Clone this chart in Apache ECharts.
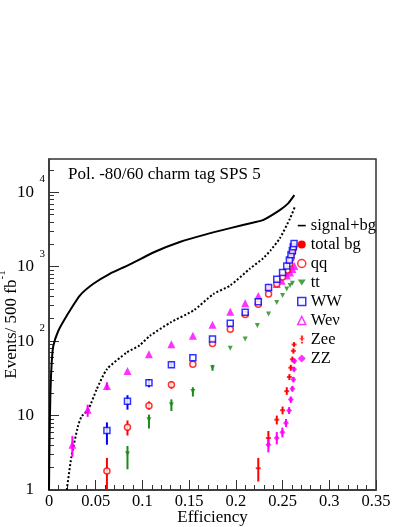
<!DOCTYPE html>
<html>
<head>
<meta charset="utf-8">
<script src="https://cdn.jsdelivr.net/npm/echarts@6/dist/echarts.min.js"></script>
<style>
html, body { margin: 0; padding: 0; background: #fff; }
#chart { width: 407px; height: 527px; }
</style>
</head>
<body>
<div id="chart"></div>
<script>
// curves
const sigEff = [0, 0.0005, 0.0015, 0.0029, 0.0046, 0.010, 0.019, 0.033, 0.0475, 0.065, 0.085, 0.1135, 0.140, 0.167, 0.194, 0.219, 0.229, 0.247, 0.256, 0.2626];
const sigVal = [1, 4, 20, 52, 86, 138, 220, 410, 590, 804, 1050, 1590, 2150, 2700, 3300, 3930, 4230, 5770, 7100, 9140];
const bgEff = [0.019, 0.024, 0.031, 0.035, 0.042, 0.051, 0.062, 0.083, 0.097, 0.108, 0.130, 0.155, 0.176, 0.194, 0.215, 0.229, 0.237, 0.247, 0.258, 0.263];
const bgVal = [1, 2.8, 7.2, 9.8, 12, 22.5, 42, 70, 88, 118, 178, 260, 430, 560, 940, 1290, 1650, 2400, 4450, 6300];

// qq
const qqEff = [0.062, 0.084, 0.107, 0.131, 0.154, 0.175, 0.194, 0.210, 0.224, 0.235, 0.2438, 0.250, 0.255, 0.2575, 0.259, 0.2605, 0.2618];
const qqVal = [1.8, 6.95, 13.6, 26, 49, 93, 144, 228, 312, 430, 585, 730, 900, 1100, 1300, 1550, 1800];
const qqLo = [0.9, 5.4, 12, 23, null, null, null, null, null, null, null, null, null, null, null, null, null];
const qqHi = [2.7, 8.6, 15.5, 29, null, null, null, null, null, null, null, null, null, null, null, null, null];

// tt
const ttEff = [0.084, 0.107, 0.131, 0.154, 0.175, 0.194, 0.210, 0.223, 0.235, 0.2438, 0.250, 0.2545, 0.258, 0.2605];
const ttVal = [3.07, 8.8, 14, 21, 44, 80, 107, 162, 232, 330, 410, 500, 560, 600];
const ttLo = [1.9, 6.7, 11.5, 18, 40, null, null, null, null, null, null, null, null, null];
const ttHi = [3.9, 10.3, 16.5, 24, 48, null, null, null, null, null, null, null, null, null];

// WW
const wwEff = [0.062, 0.084, 0.107, 0.131, 0.154, 0.175, 0.194, 0.210, 0.224, 0.235, 0.2438, 0.250, 0.2545, 0.2573, 0.259, 0.2605, 0.2615, 0.2623];
const wwVal = [6.3, 15.6, 27.6, 48, 60, 107, 174, 245, 339, 525, 680, 835, 1025, 1230, 1450, 1650, 1850, 2050];
const wwLo = [4.06, 12, 24, 44, null, null, null, null, null, null, null, null, null, null, null, null, null, null];
const wwHi = [8.1, 18.8, 31, 52, null, null, null, null, null, null, null, null, null, null, null, null, null, null];

// Wenu
const wevEff = [0.025, 0.0414, 0.062, 0.084, 0.107, 0.131, 0.154, 0.175, 0.194, 0.210, 0.224, 0.235, 0.2438, 0.249, 0.2545, 0.258, 0.2605, 0.2626];
const wevVal = [4.05, 12, 24.9, 39.7, 66.7, 91, 118, 166, 249, 323, 405, 530, 585, 650, 760, 835, 930, 1025];
const wevLo = [2.8, 9.6, 22, null, null, null, null, null, null, null, null, null, null, null, null, null, null, null];
const wevHi = [5.3, 14, 28, null, null, null, null, null, null, null, null, null, null, null, null, null, null, null];

// Zee
const zeeEff = [0.224, 0.2348, 0.2438, 0.250, 0.2545, 0.2573, 0.2588, 0.2605, 0.2616, 0.2623];
const zeeVal = [1.96, 5.0, 8.8, 11.8, 21.3, 33, 44, 57, 74, 90];
const zeeLo = [1.3, 4.0, 7.6, 10.4, 19, 30, 40, 52, 68, 84];
const zeeHi = [2.7, 6.2, 10, 13.2, 24, 36, 48, 62, 80, 97];

// ZZ
const zzEff = [0.2348, 0.2438, 0.2498, 0.2537, 0.257, 0.2588, 0.2605, 0.2616, 0.2623, 0.2627];
const zzVal = [4.05, 5.0, 5.95, 7.95, 11.7, 16.4, 23, 30.6, 42, 54];
const zzLo = [3.2, 4.1, 5.1, 7.0, 10.5, 14.8, 21, 28, 39, 50];
const zzHi = [5.1, 6.0, 6.9, 9.0, 13, 18, 25, 33, 45, 58];

// axis ticks
const xTickLabels = ['0', '0.05', '0.1', '0.15', '0.2', '0.25', '0.3', '0.35'];
const yMajorTicks = [1, 10, 100, 1000, 10000];
const yMantissa = [2, 3, 4, 5, 6, 7, 8, 9];
const yMinorTicks = [];
yMajorTicks.forEach(d => yMantissa.forEach(m => { if (d * m < 28000) yMinorTicks.push(d * m); }));

const FONT = 'Liberation Serif';
const RED = '#ff0000', BLUE = '#0000ff', GREEN = '#1b8a1b', MAGENTA = '#ff00ff';

const pts = (eff, val) => eff.map((x, i) => [x, val[i]]);

function errSeries(name, color, eff, lo, hi) {
  const data = [];
  eff.forEach((x, i) => { if (lo[i] != null) data.push([x, lo[i], hi[i]]); });
  return {
    type: 'custom', name: name + ' err', silent: true, z: 2, clip: true,
    encode: { x: 0, y: [1, 2] },
    renderItem: (params, api) => {
      const a = api.coord([api.value(0), api.value(1)]);
      const b = api.coord([api.value(0), api.value(2)]);
      return { type: 'line', shape: { x1: a[0], y1: a[1], x2: b[0], y2: b[1] }, style: { stroke: color, lineWidth: 2 } };
    },
    data
  };
}

function pointSeries(name, eff, val, symbol, size, style, rotate) {
  return {
    type: 'scatter', name, silent: true, z: 3,
    data: pts(eff, val),
    symbol, symbolSize: size, symbolRotate: rotate || 0,
    itemStyle: style
  };
}

const chart = echarts.init(document.getElementById('chart'));

const yLabelRich = {
  b: { fontFamily: FONT, fontSize: 17, color: '#000', padding: [10, 0, 10, 0], verticalAlign: 'top' },
  s: { fontFamily: FONT, fontSize: 11, color: '#000', width: 8, padding: [0, 0, 0, 3], verticalAlign: 'top' }
};

const option = {
  animation: false,
  backgroundColor: '#fff',
  grid: { left: 49, right: 31, top: 159, bottom: 37, outerBoundsMode: 'none', containLabel: false,
    show: true, borderColor: '#333', borderWidth: 1.5 },
  graphic: [{
    type: 'text', left: 68, top: 166,
    style: { text: 'Pol. -80/60 charm tag SPS 5', font: '17px "Liberation Serif"', fill: '#000' }
  }],
  legend: {
    orient: 'vertical', left: 292, top: 212, itemWidth: 8, itemHeight: 8, itemGap: 2,
    textStyle: { fontFamily: FONT, fontSize: 16.5, color: '#000' },
    selectedMode: false,
    data: [
      { name: 'signal+bg', icon: 'path://M0,0M8,8M0,3.3L8,3.3L8,4.9L0,4.9Z', itemStyle: { color: '#000' } },
      { name: 'total bg', icon: 'circle', itemStyle: { color: RED } },
      { name: 'qq', icon: 'circle', itemStyle: { color: '#fff', borderColor: RED, borderWidth: 1.5 } },
      { name: 'tt', icon: 'path://M0,1L8,1L4,7Z', itemStyle: { color: GREEN } },
      { name: 'WW', icon: 'rect', itemStyle: { color: '#fff', borderColor: BLUE, borderWidth: 1.5 } },
      { name: 'Weν', icon: 'triangle', itemStyle: { color: '#fff', borderColor: MAGENTA, borderWidth: 1.5 } },
      { name: 'Zee', icon: 'path://M0,0M8,9M3,0L5.5,0L5.5,6L3,6Z M3,7L5.5,7L5.5,9L3,9Z M1.5,3L7,3L7,4.2L1.5,4.2Z', itemStyle: { color: RED } },
      { name: 'ZZ', icon: 'diamond', itemStyle: { color: MAGENTA } }
    ]
  },
  xAxis: {
    type: 'value', min: 0, max: 0.35, interval: 0.05,
    name: 'Efficiency', nameLocation: 'middle', nameGap: 19, nameMoveOverlap: false,
    nameTextStyle: { fontFamily: FONT, fontSize: 17, color: '#000' },
    axisLine: { onZero: false, lineStyle: { color: '#333', width: 1.5 } },
    axisTick: { inside: true, length: 10, lineStyle: { color: '#333' } },
    minorTick: { show: true, splitNumber: 5, length: 5, lineStyle: { color: '#333' } },
    axisLabel: { fontFamily: FONT, fontSize: 16.5, color: '#000', margin: 3,
      formatter: v => xTickLabels[Math.round(v / 0.05)] },
    splitLine: { show: false }
  },
  yAxis: [{
    type: 'log', min: 1, max: 28000, logBase: 10,
    name: '{t|Events/ 500 fb}{sup|-1}', nameLocation: 'middle', nameGap: 29, nameRotate: 90,
    nameMoveOverlap: false,
    nameTextStyle: { rich: {
      t: { fontFamily: FONT, fontSize: 17, color: '#000', padding: [6, 0, 0, 0], verticalAlign: 'top' },
      sup: { fontFamily: FONT, fontSize: 11, color: '#000', verticalAlign: 'top' }
    } },
    axisLine: { lineStyle: { color: '#333', width: 1.5 } },
    axisTick: { inside: true, length: 10, customValues: yMajorTicks, lineStyle: { color: '#333' } },
    axisLabel: {
      customValues: yMajorTicks, margin: 4, rich: yLabelRich,
      formatter: v => {
        const e = Math.round(Math.log10(v));
        if (e === 0) return '{b|1}{s| }';
        if (e === 1) return '{b|10}{s| }';
        return '{b|10}{s|' + e + '}';
      }
    },
    splitLine: { show: false }
  }, {
    type: 'log', min: 1, max: 28000, logBase: 10, position: 'left',
    axisLine: { show: false },
    axisTick: { inside: true, length: 5, customValues: yMinorTicks, lineStyle: { color: '#333' } },
    axisLabel: { show: false },
    splitLine: { show: false }
  }],
  series: [
    { type: 'line', name: 'signal+bg', data: pts(sigEff, sigVal), showSymbol: false, smooth: 0.2,
      lineStyle: { color: '#000', width: 2 }, itemStyle: { color: '#000' }, z: 1, silent: true },
    { type: 'line', name: 'total bg', data: pts(bgEff, bgVal), showSymbol: false, smooth: 0.2,
      lineStyle: { color: '#000', width: 2, type: [2, 2] }, itemStyle: { color: RED }, z: 1, silent: true },
    errSeries('qq', RED, qqEff, qqLo, qqHi),
    errSeries('tt', GREEN, ttEff, ttLo, ttHi),
    errSeries('WW', BLUE, wwEff, wwLo, wwHi),
    errSeries('Weν', MAGENTA, wevEff, wevLo, wevHi),
    errSeries('Zee', RED, zeeEff, zeeLo, zeeHi),
    errSeries('ZZ', MAGENTA, zzEff, zzLo, zzHi),
    pointSeries('tt', ttEff, ttVal, 'triangle', 5, { color: GREEN }, 180),
    pointSeries('Weν', wevEff, wevVal, 'triangle', 8, { color: MAGENTA }),
    pointSeries('qq', qqEff, qqVal, 'circle', 6, { color: '#fff', borderColor: RED, borderWidth: 1.5 }),
    pointSeries('WW', wwEff, wwVal, 'rect', 6, { color: '#fff', borderColor: BLUE, borderWidth: 1.5 }),
    pointSeries('Zee', zeeEff, zeeVal, 'rect', [5, 2], { color: RED }),
    pointSeries('ZZ', zzEff, zzVal, 'diamond', 6, { color: MAGENTA })
  ]
};

chart.setOption(option);
</script>
</body>
</html>
